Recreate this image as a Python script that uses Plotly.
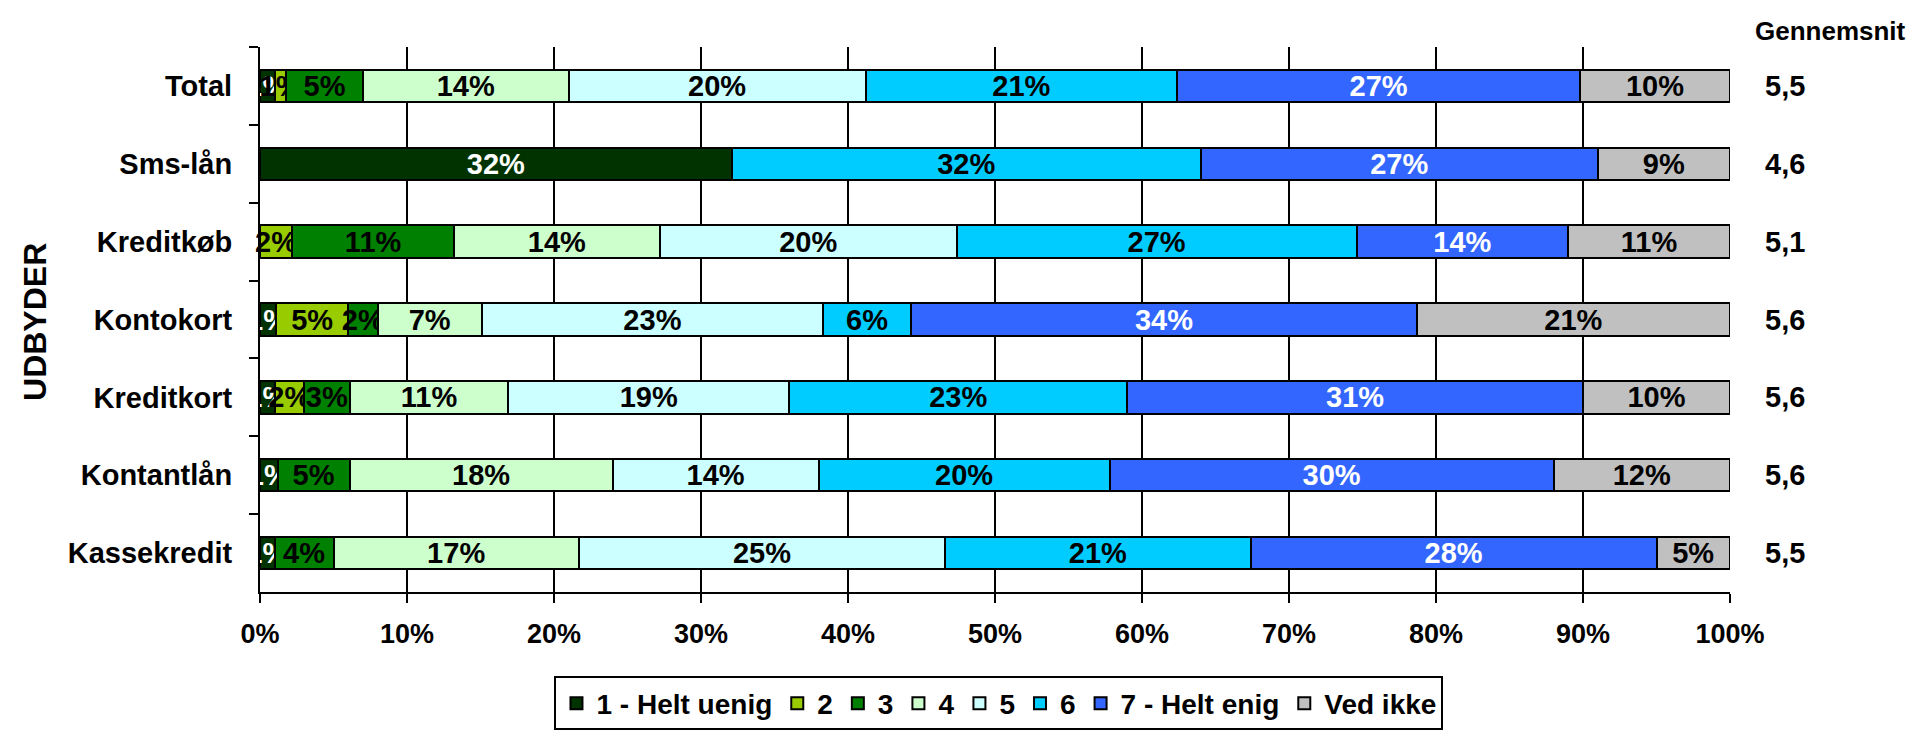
import plotly.graph_objects as go

categories = ["Total", "Sms-lån", "Kreditkøb", "Kontokort", "Kreditkort", "Kontantlån", "Kassekredit"]
series_names = ["1 - Helt uenig", "2", "3", "4", "5", "6", "7 - Helt enig", "Ved ikke"]
s1 = [1.0, 32.1, 0.0, 1.1, 1.0, 1.2, 1.0]
s2 = [0.8, 0.0, 2.2, 4.9, 2.0, 0.0, 0.0]
s3 = [5.2, 0.0, 11.0, 2.0, 3.1, 4.9, 4.0]
s4 = [14.0, 0.0, 14.0, 7.1, 10.8, 17.9, 16.7]
s5 = [20.2, 0.0, 20.2, 23.2, 19.1, 14.0, 24.9]
s6 = [21.2, 31.9, 27.2, 6.0, 23.0, 19.8, 20.8]
s7 = [27.4, 27.0, 14.4, 34.4, 31.0, 30.2, 27.6]
ved_ikke = [10.2, 9.0, 11.0, 21.3, 10.0, 12.0, 5.0]
averages = ["5,5", "4,6", "5,1", "5,6", "5,6", "5,6", "5,5"]
tick_values = [0, 10, 20, 30, 40, 50, 60, 70, 80, 90, 100]
tick_labels = ["0%", "10%", "20%", "30%", "40%", "50%", "60%", "70%", "80%", "90%", "100%"]

colors = ["#003300", "#99CC00", "#008000", "#CCFFCC", "#CCFFFF", "#00CCFF", "#3366FF", "#C0C0C0"]
label_colors = ["white", "black", "black", "black", "black", "black", "white", "black"]

FONT = "Liberation Sans, Arial, sans-serif"

fig = go.Figure()
for name, vals, col, lc in zip(series_names, [s1, s2, s3, s4, s5, s6, s7, ved_ikke], colors, label_colors):
    fig.add_trace(go.Bar(
        y=categories, x=vals, name=name, orientation="h",
        marker=dict(color=col, line=dict(color="black", width=2)),
        text=[f"{v:.0f}%" if v > 0 else "" for v in vals],
        textposition="inside", insidetextanchor="middle", constraintext="none",
        textangle=0,
        textfont=dict(family=FONT, size=29, color=lc, weight="bold"),
        cliponaxis=False,
    ))

for cat, avg in zip(categories, averages):
    fig.add_annotation(x=1.0225, xref="paper", y=cat, yref="y", text=avg,
                       showarrow=False, xanchor="left", yanchor="middle",
                       font=dict(family=FONT, size=29, color="black", weight="bold"))

fig.add_annotation(x=1.0155, xref="paper", y=1.029, yref="paper", text="Gennemsnit",
                   showarrow=False, xanchor="left", yanchor="middle",
                   font=dict(family=FONT, size=26, color="black", weight="bold"))

fig.add_annotation(x=(27 - 252) / 1470, xref="paper", y=(594 - 319) / 555, yref="paper",
                   text="UDBYDER", textangle=-90, showarrow=False,
                   xanchor="center", yanchor="middle",
                   font=dict(family=FONT, size=32, color="black", weight="bold"))

fig.update_layout(
    width=1926, height=734,
    margin=dict(l=252, r=204, t=39, b=141),
    barmode="stack", bargap=0.585,
    plot_bgcolor="white", paper_bgcolor="white",
    font=dict(family=FONT, color="black"),
    showlegend=True,
    legend=dict(orientation="h", x=0.5027, xanchor="center", y=-0.155, yanchor="top",
                bordercolor="black", borderwidth=2, bgcolor="white",
                font=dict(family=FONT, size=28, color="black", weight="bold"),
                traceorder="normal", itemwidth=30),
    xaxis=dict(range=[0, 100.0001], tickvals=tick_values, ticktext=tick_labels,
               showgrid=True, gridcolor="black", gridwidth=2,
               showline=True, linecolor="black", linewidth=2,
               ticks="outside", ticklen=9, tickwidth=2, tickcolor="black",
               ticklabelstandoff=8,
               tickfont=dict(family=FONT, size=27, color="black", weight="bold"),
               zeroline=False, fixedrange=True),
    yaxis=dict(autorange="reversed", showline=True, linecolor="black", linewidth=2,
               ticks="outside", tickson="boundaries", ticklen=9, tickwidth=2, tickcolor="black",
               ticklabelstandoff=20,
               tickfont=dict(family=FONT, size=29, color="black", weight="bold"),
               showgrid=False, fixedrange=True),
)

fig.write_html("out.html")
